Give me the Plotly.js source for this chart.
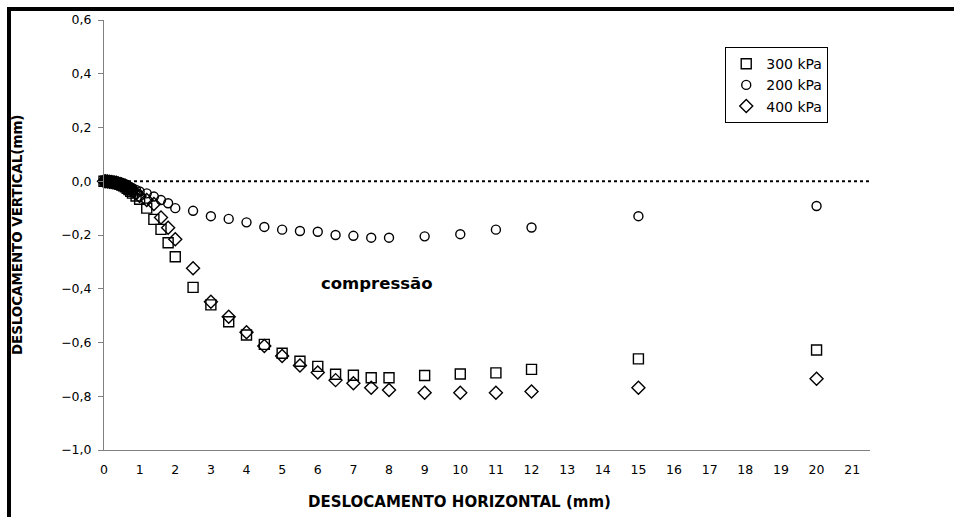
<!DOCTYPE html>
<html>
<head>
<meta charset="utf-8">
<script src="https://cdn.plot.ly/plotly-3.0.1.min.js"></script>
<style>
  html, body { margin: 0; padding: 0; background: #fff; }
  #wrap { position: relative; width: 954px; height: 517px; overflow: hidden; }
  #chart { position: absolute; left: 0; top: 0; width: 954px; height: 517px; }
  #frame { position: absolute; left: 7px; top: 7px; width: 960px; height: 520px;
           border-top: 4px solid #000; border-left: 4px solid #000; pointer-events: none; }
</style>
</head>
<body>
<div id="wrap">
  <div id="chart"></div>
  <div id="frame"></div>
</div>
<script>
// ---- data ----
const seriesNames = ["300 kPa", "200 kPa", "400 kPa"];

const x300 = [0, 0.05, 0.1, 0.15, 0.2, 0.25, 0.3, 0.35, 0.4, 0.45, 0.5, 0.55, 0.6, 0.65, 0.7, 0.75, 0.8, 0.9, 1.0,
              1.2, 1.4, 1.6, 1.8, 2.0, 2.5, 3.0, 3.5, 4.0, 4.5, 5.0, 5.5, 6.0, 6.5, 7.0, 7.5, 8.0, 9, 10, 11, 12, 15, 20];
const y300 = [0, 0, -0.001, -0.002, -0.003, -0.004, -0.005, -0.007, -0.009, -0.011, -0.014, -0.017, -0.021, -0.026, -0.031, -0.037, -0.044, -0.055, -0.067,
              -0.100, -0.142, -0.179, -0.229, -0.281, -0.395, -0.460, -0.523, -0.572, -0.607, -0.640, -0.670, -0.689, -0.718, -0.722, -0.731, -0.731, -0.723, -0.717, -0.713, -0.700, -0.661, -0.628];

const x200 = [0, 0.05, 0.1, 0.15, 0.2, 0.25, 0.3, 0.35, 0.4, 0.45, 0.5, 0.55, 0.6, 0.65, 0.7, 0.75, 0.8, 0.9, 1.0,
              1.2, 1.4, 1.6, 1.8, 2.0, 2.5, 3.0, 3.5, 4.0, 4.5, 5.0, 5.5, 6.0, 6.5, 7.0, 7.5, 8.0, 9, 10, 11, 12, 15, 20];
const y200 = [0, 0, 0, -0.001, -0.002, -0.003, -0.004, -0.005, -0.006, -0.008, -0.010, -0.012, -0.014, -0.017, -0.020, -0.023, -0.026, -0.032, -0.038,
              -0.045, -0.057, -0.070, -0.082, -0.100, -0.110, -0.130, -0.140, -0.153, -0.170, -0.180, -0.185, -0.188, -0.200, -0.203, -0.210, -0.210, -0.205, -0.197, -0.180, -0.172, -0.130, -0.092];

const x400 = [0, 0.05, 0.1, 0.15, 0.2, 0.25, 0.3, 0.35, 0.4, 0.45, 0.5, 0.55, 0.6, 0.65, 0.7, 0.75, 0.8, 0.9, 1.0,
              1.2, 1.4, 1.6, 1.8, 2.0, 2.5, 3.0, 3.5, 4.0, 4.5, 5.0, 5.5, 6.0, 6.5, 7.0, 7.5, 8.0, 9, 10, 11, 12, 15, 20];
const y400 = [0, 0, -0.001, -0.002, -0.003, -0.004, -0.005, -0.006, -0.008, -0.010, -0.012, -0.015, -0.018, -0.022, -0.026, -0.030, -0.035, -0.045, -0.055,
              -0.070, -0.085, -0.135, -0.173, -0.216, -0.324, -0.448, -0.504, -0.562, -0.613, -0.650, -0.686, -0.712, -0.740, -0.752, -0.768, -0.777, -0.787, -0.787, -0.787, -0.782, -0.768, -0.735];

const xTickVals = [0,1,2,3,4,5,6,7,8,9,10,11,12,13,14,15,16,17,18,19,20,21];
const yTickVals = [-1.0, -0.8, -0.6, -0.4, -0.2, 0.0, 0.2, 0.4, 0.6];

const xTitle = "DESLOCAMENTO HORIZONTAL (mm)";
const yTitle = "DESLOCAMENTO VERTICAL(mm)";
const noteText = "compressão";

// ---- chart ----
const FONT = "DejaVu Sans, Liberation Sans, Arial, sans-serif";
function mk(x, y, name, symbol, size) {
  return {
    type: "scatter", mode: "markers", x: x, y: y, name: name,
    marker: { symbol: symbol, size: size, color: "#000", line: { color: "#000", width: 1.4 } },
    cliponaxis: false
  };
}
const data = [
  mk(x300, y300, seriesNames[0], "square-open", 10),
  mk(x200, y200, seriesNames[1], "circle-open", 9),
  mk(x400, y400, seriesNames[2], "diamond-open", 10)
];

const layout = {
  width: 954, height: 517,
  margin: { l: 104, r: 84, t: 20, b: 67 },
  paper_bgcolor: "#fff", plot_bgcolor: "#fff",
  separators: ",.",
  font: { family: FONT, size: 12.5, color: "#000" },
  showlegend: true,
  legend: {
    x: 0.811, y: 0.937, xanchor: "left", yanchor: "top",
    bgcolor: "#fff", bordercolor: "#000", borderwidth: 1,
    font: { family: FONT, size: 14, color: "#000" },
    itemwidth: 30, tracegroupgap: 0
  },
  xaxis: {
    range: [0, 21.5], tickmode: "array", tickvals: xTickVals,
    showgrid: false, zeroline: false, showline: true, linecolor: "#808080", linewidth: 1,
    ticks: "", ticklabelstandoff: 8,
    tickfont: { family: FONT, size: 12.5, color: "#000" }
  },
  yaxis: {
    range: [-1.0, 0.6], tickmode: "array", tickvals: yTickVals, tickformat: ".1f",
    showgrid: false, zeroline: false, showline: true, linecolor: "#808080", linewidth: 1,
    ticks: "outside", ticklen: 5, tickcolor: "#808080", ticklabelstandoff: 4,
    tickfont: { family: FONT, size: 12.5, color: "#000" }
  },
  shapes: [
    { type: "line", xref: "paper", yref: "y", x0: 0, x1: 1, y0: 0, y1: 0,
      line: { color: "#000", width: 2, dash: "dot" }, layer: "below" }
  ],
  annotations: [
    { text: "<b>" + xTitle + "</b>", xref: "paper", yref: "paper", x: 0.464, y: -0.121,
      xanchor: "center", yanchor: "middle", showarrow: false,
      font: { family: FONT, size: 15, color: "#000" } },
    { text: "<b>" + yTitle + "</b>", xref: "paper", yref: "paper", x: -0.1136, y: 0.502,
      xanchor: "center", yanchor: "middle", textangle: -90, showarrow: false,
      font: { family: FONT, size: 13.4, color: "#000" } },
    { text: "<b>" + noteText + "</b>", xref: "x", yref: "y", x: 7.67, y: -0.379,
      xanchor: "center", yanchor: "middle", showarrow: false,
      font: { family: FONT, size: 16.5, color: "#000" } }
  ]
};

Plotly.newPlot("chart", data, layout, { staticPlot: true, displayModeBar: false });
</script>
</body>
</html>
